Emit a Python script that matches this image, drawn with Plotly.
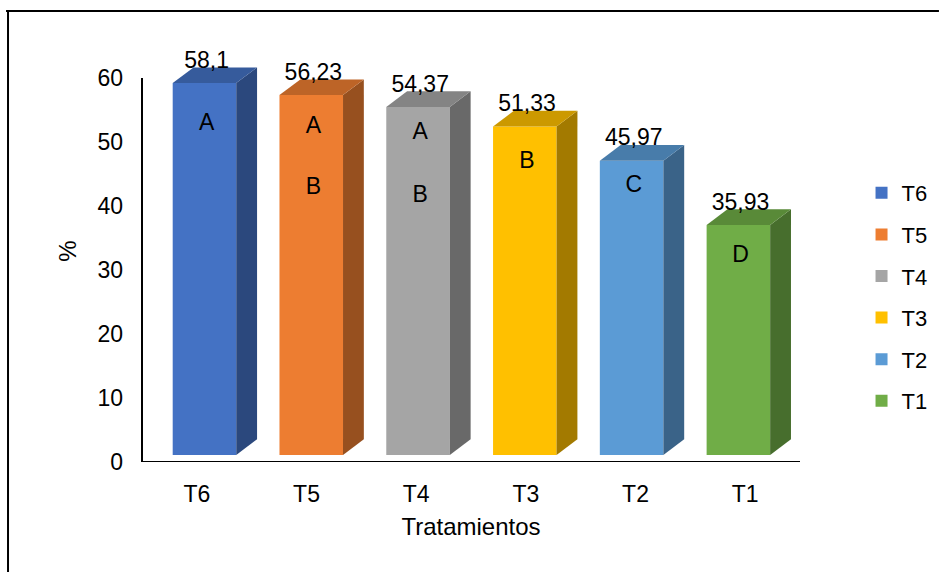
import plotly.graph_objects as go

# ---------------- data ----------------
categories = ["T6", "T5", "T4", "T3", "T2", "T1"]
values = [58.1, 56.23, 54.37, 51.33, 45.97, 35.93]
value_labels = ["58,1", "56,23", "54,37", "51,33", "45,97", "35,93"]
letters = [["A"], ["A", "B"], ["A", "B"], ["B"], ["C"], ["D"]]
letter_y = [[52.8], [52.3, 42.8], [51.3, 41.6], [46.9], [43.1], [32.2]]
front_colors = ["#4472C4", "#ED7D31", "#A5A5A5", "#FFC000", "#5B9BD5", "#70AD47"]
y_ticks = [0, 10, 20, 30, 40, 50, 60]

# ---------------- style ----------------
FONT = "Liberation Sans, Arial, sans-serif"
FS = 23
W, H = 945, 572
L, R, T, B = 142, 140, 40, 110
PX_PER_UNIT = 6.4
YMAX = (H - T - B) / PX_PER_UNIT
BASE = 1.1          # front face sits slightly above floor (3D look)
HALF_W = 0.2975     # half width of the bar front, in category units
DX, DY = 0.195, 2.45  # depth of the 3D extrusion
X2_RANGE = [-0.585, 5.577]


def shade(hex_color, f):
    h = hex_color.lstrip("#")
    r, g, b = (int(h[i:i + 2], 16) for i in (0, 2, 4))
    return "rgb({},{},{})".format(int(r * f), int(g * f), int(b * f))


fig = go.Figure()

# invisible trace to carry the category axis
fig.add_trace(go.Scatter(x=categories, y=[0] * len(categories), mode="markers",
                         marker=dict(opacity=0), showlegend=False,
                         hoverinfo="skip", xaxis="x", yaxis="y"))

for i, (cat, v, col) in enumerate(zip(categories, values, front_colors)):
    top = v + BASE
    # front face
    fig.add_trace(go.Bar(x=[i], y=[v], base=[BASE], width=[2 * HALF_W],
                         marker=dict(color=col, line=dict(width=0)),
                         name=cat, legendgroup=cat, xaxis="x2", yaxis="y"))
    # side face
    fig.add_trace(go.Scatter(
        x=[i + HALF_W, i + HALF_W + DX, i + HALF_W + DX, i + HALF_W, i + HALF_W],
        y=[BASE, BASE + DY, top + DY, top, BASE],
        fill="toself", fillcolor=shade(col, 0.64), mode="lines",
        line=dict(width=0), showlegend=False, hoverinfo="skip",
        legendgroup=cat, xaxis="x2", yaxis="y"))
    # top face
    fig.add_trace(go.Scatter(
        x=[i - HALF_W, i - HALF_W + DX, i + HALF_W + DX, i + HALF_W, i - HALF_W],
        y=[top, top + DY, top + DY, top, top],
        fill="toself", fillcolor=shade(col, 0.8), mode="lines",
        line=dict(width=0), showlegend=False, hoverinfo="skip",
        legendgroup=cat, xaxis="x2", yaxis="y"))
    # value label
    fig.add_trace(go.Scatter(x=[i + 0.02], y=[top + 3.3], mode="text",
                             text=[value_labels[i]], textposition="middle center",
                             textfont=dict(family=FONT, size=FS, color="#000000"),
                             showlegend=False, hoverinfo="skip", cliponaxis=False,
                             xaxis="x2", yaxis="y"))
    # significance letters
    fig.add_trace(go.Scatter(x=[i + 0.02] * len(letters[i]), y=letter_y[i], mode="text",
                             text=letters[i], textposition="middle center",
                             textfont=dict(family=FONT, size=FS, color="#000000"),
                             showlegend=False, hoverinfo="skip",
                             xaxis="x2", yaxis="y"))

pw = W - L - R
ph = H - T - B
shapes = [
    # y axis line (0 to 60)
    dict(type="line", xref="paper", yref="y", x0=0, x1=0, y0=0, y1=60,
         line=dict(color="#000000", width=2)),
    # x axis line
    dict(type="line", xref="paper", yref="y", x0=0, x1=1, y0=0, y1=0,
         line=dict(color="#000000", width=2)),
    # outer frame: top and left edges
    dict(type="line", xref="paper", yref="paper",
         x0=(5 - L) / pw, x1=(W - L) / pw, y0=(H - B - 11) / ph, y1=(H - B - 11) / ph,
         line=dict(color="#000000", width=2)),
    dict(type="line", xref="paper", yref="paper",
         x0=(7 - L) / pw, x1=(7 - L) / pw, y0=(H - B - 11) / ph, y1=(H - B - H) / ph,
         line=dict(color="#000000", width=2)),
]

fig.update_layout(
    width=W, height=H,
    margin=dict(l=L, r=R, t=T, b=B, pad=0),
    paper_bgcolor="white", plot_bgcolor="white",
    font=dict(family=FONT, size=FS, color="#000000"),
    barmode="overlay",
    showlegend=True,
    legend=dict(x=(867 - L) / pw, y=(H - B - 172) / ph, xanchor="left", yanchor="top",
                font=dict(family=FONT, size=22, color="#000000"),
                tracegroupgap=10, bgcolor="rgba(0,0,0,0)", borderwidth=0),
    xaxis=dict(type="category", categoryorder="array", categoryarray=categories,
               range=[-0.5, len(categories) - 0.5], showline=False, showgrid=False,
               zeroline=False, ticks="", ticklabelstandoff=16,
               tickfont=dict(family=FONT, size=FS, color="#000000"),
               title=dict(text="Tratamientos", standoff=12,
                          font=dict(family=FONT, size=24, color="#000000"))),
    xaxis2=dict(overlaying="x", range=X2_RANGE, visible=False, showgrid=False,
                zeroline=False),
    yaxis=dict(range=[0, YMAX], tickvals=y_ticks, showline=False, showgrid=False,
               zeroline=False, ticks="", ticklabelstandoff=18,
               tickfont=dict(family=FONT, size=FS, color="#000000"),
               title=dict(text="%", standoff=14,
                          font=dict(family=FONT, size=24, color="#000000"))),
    shapes=shapes,
)

fig.write_html("out.html")
